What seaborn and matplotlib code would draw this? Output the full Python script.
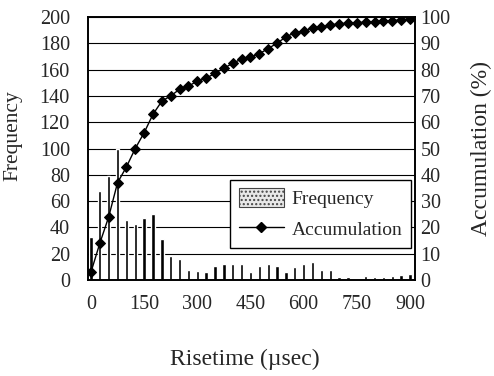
import matplotlib
matplotlib.use("Agg")
import matplotlib.pyplot as plt
from matplotlib.patches import Patch
from matplotlib.lines import Line2D
import seaborn as sns
import pandas as pd

# ---- data ----
risetime = [0, 25, 50, 75, 100, 125, 150, 175, 200, 225, 250, 275, 300, 325, 350,
            375, 400, 425, 450, 475, 500, 525, 550, 575, 600, 625, 650, 675, 700,
            725, 750, 775, 800, 825, 850, 875, 900]
frequency = [33, 68, 79, 100, 46, 43, 47, 50, 31, 18, 16, 8, 7, 6, 11,
             12, 12, 12, 6, 11, 12, 11, 6, 10, 12, 14, 8, 8, 2,
             2, 1, 3, 2, 2, 3, 4, 5]
accumulation = [3, 14, 24, 37, 43, 50, 56, 63, 68, 70, 72.5, 73.7, 75.6, 76.7, 78.6,
                80.5, 82.4, 84, 84.7, 86, 88, 90, 92.4, 94, 94.7, 95.8, 96.2, 97, 97.3,
                97.7, 97.8, 98, 98.2, 98.4, 98.6, 98.8, 99.3]
x_ticks = [0, 150, 300, 450, 600, 750, 900]
left_ticks = list(range(0, 201, 20))
right_ticks = list(range(0, 101, 10))

df = pd.DataFrame({"risetime": risetime, "frequency": frequency,
                   "accumulation": accumulation})

sns.set_theme(style="white")
plt.rcParams["font.family"] = ["Liberation Serif", "DejaVu Serif"]

fig = plt.figure(figsize=(4.94, 3.76), dpi=100)
ax = fig.add_axes([0.178, 0.255, 0.662, 0.70])
ax2 = ax.twinx()

sns.barplot(data=df, x="risetime", y="frequency", native_scale=True,
            color="black", width=0.38, ax=ax, saturation=1)
sns.lineplot(data=df, x="risetime", y="accumulation", ax=ax2, color="black",
             marker="D", markersize=5, linewidth=1.0, markeredgecolor="black")

ax.set_xlim(-8.5, 914)
ax.set_ylim(0, 200)
ax2.set_ylim(0, 100)
tick_fs = 14.5
ax.set_xticks(x_ticks)
ax.set_xticklabels([str(t) for t in x_ticks], fontsize=tick_fs)
ax.set_yticks(left_ticks)
ax.set_yticklabels([str(t) for t in left_ticks], fontsize=tick_fs)
ax2.set_yticks(right_ticks)
ax2.set_yticklabels([str(t) for t in right_ticks], fontsize=tick_fs)
ax.yaxis.grid(True, color="black", linewidth=0.8)
ax.set_axisbelow(True)
ax.tick_params(axis="x", length=0, pad=11)
ax.tick_params(axis="y", length=0, pad=13)
ax2.tick_params(axis="y", length=0, pad=4)

for a in (ax, ax2):
    for s in a.spines.values():
        s.set_color("black")
        s.set_linewidth(1.2)

ax.set_xlabel("Risetime (\u00b5sec)", fontsize=17)
ax.set_ylabel("Frequency", fontsize=15.5)
ax2.set_ylabel("Accumulation (%)", fontsize=17)
ax.xaxis.set_label_coords(0.48, -0.262)
ax.yaxis.set_label_coords(-0.20, 0.55)
ax2.yaxis.set_label_coords(1.172, 0.50)

handles = [Patch(facecolor="#e8e8e8", edgecolor="#444444", hatch="....", linewidth=0.8),
           Line2D([0], [0], color="black", marker="D", markersize=5.5, linewidth=1.0)]
leg = ax2.legend(handles, ["Frequency", "Accumulation"], loc="lower right",
                 bbox_to_anchor=(1.0, 0.108), fontsize=14, frameon=True,
                 fancybox=False, edgecolor="black", framealpha=1,
                 handlelength=2.3, handleheight=1.1, handletextpad=0.4,
                 borderpad=0.45, labelspacing=0.55, borderaxespad=0.2)
leg.get_frame().set_linewidth(1.0)

fig.savefig("out.png", dpi=100)
